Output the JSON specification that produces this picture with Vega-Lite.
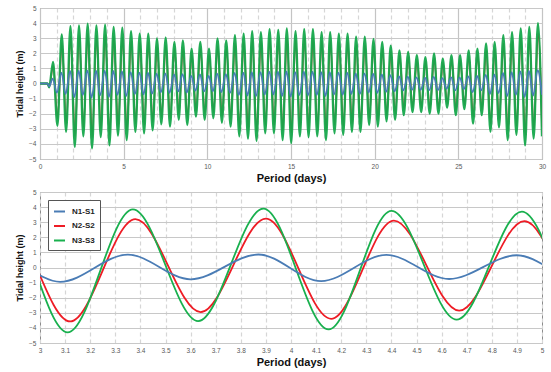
{
"$schema": "https://vega.github.io/schema/vega-lite/v6.json",
"autosize": {"type": "pad"},
"padding": {"left": 15, "top": 4, "right": 9, "bottom": 2},
"background": "white",
"spacing": 4,
"config": {
 "font": "Liberation Sans",
 "view": {"stroke": "#8c8c8c", "strokeWidth": 1},
 "axis": {"domain": false, "ticks": false, "labelFontSize": 6.5, "labelColor": "#595959", "labelPadding": 4, "titleFontSize": 11, "titleFontWeight": "bold", "titleColor": "#111", "gridColor": "#c8c8c8", "gridWidth": 1.2, "labelOverlap": false, "labelFlush": false},
 "legend": {"fillColor": "white", "strokeColor": "#555", "padding": 5, "symbolType": "stroke", "symbolSize": 121, "symbolStrokeWidth": 2, "labelFontSize": 8, "labelFontWeight": "bold", "labelColor": "#222", "rowPadding": 3.5, "labelOffset": 6}
},
"datasets": {"tide": [
{"s":"N3-S3","t":0,"h":0},{"s":"N3-S3","t":0.45,"h":0},{"s":"N3-S3","t":0.55,"h":-0.25},{"s":"N3-S3","t":0.78,"h":1.43},{"s":"N3-S3","t":1.04,"h":-2.8},{"s":"N3-S3","t":1.30,"h":3.25},{"s":"N3-S3","t":1.56,"h":-3.2},{"s":"N3-S3","t":1.82,"h":3.8},{"s":"N3-S3","t":2.08,"h":-4.2},{"s":"N3-S3","t":2.33,"h":3.85},{"s":"N3-S3","t":2.59,"h":-3.5},{"s":"N3-S3","t":2.85,"h":3.97},{"s":"N3-S3","t":3.11,"h":-4.3},{"s":"N3-S3","t":3.37,"h":3.85},{"s":"N3-S3","t":3.63,"h":-3.55},{"s":"N3-S3","t":3.89,"h":3.9},{"s":"N3-S3","t":4.15,"h":-4.1},{"s":"N3-S3","t":4.40,"h":3.75},{"s":"N3-S3","t":4.66,"h":-3.45},{"s":"N3-S3","t":4.92,"h":3.7},{"s":"N3-S3","t":5.18,"h":-3.75},{"s":"N3-S3","t":5.44,"h":3.46},{"s":"N3-S3","t":5.70,"h":-3.2},{"s":"N3-S3","t":5.96,"h":3.3},{"s":"N3-S3","t":6.22,"h":-3.3},{"s":"N3-S3","t":6.47,"h":3.3},{"s":"N3-S3","t":6.73,"h":-3.1},{"s":"N3-S3","t":6.99,"h":2.98},{"s":"N3-S3","t":7.25,"h":-2.7},{"s":"N3-S3","t":7.51,"h":3.05},{"s":"N3-S3","t":7.77,"h":-2.85},{"s":"N3-S3","t":8.03,"h":2.76},{"s":"N3-S3","t":8.29,"h":-2.4},{"s":"N3-S3","t":8.54,"h":2.85},{"s":"N3-S3","t":8.80,"h":-2.75},{"s":"N3-S3","t":9.06,"h":2.3},{"s":"N3-S3","t":9.32,"h":-2.2},{"s":"N3-S3","t":9.58,"h":2.76},{"s":"N3-S3","t":9.84,"h":-2.4},{"s":"N3-S3","t":10.10,"h":2.3},{"s":"N3-S3","t":10.36,"h":-2.3},{"s":"N3-S3","t":10.61,"h":2.98},{"s":"N3-S3","t":10.87,"h":-2.6},{"s":"N3-S3","t":11.13,"h":2.85},{"s":"N3-S3","t":11.39,"h":-2.85},{"s":"N3-S3","t":11.65,"h":3.2},{"s":"N3-S3","t":11.91,"h":-3.5},{"s":"N3-S3","t":12.17,"h":3.3},{"s":"N3-S3","t":12.43,"h":-3.65},{"s":"N3-S3","t":12.68,"h":3.46},{"s":"N3-S3","t":12.94,"h":-3.8},{"s":"N3-S3","t":13.20,"h":3.4},{"s":"N3-S3","t":13.46,"h":-3.3},{"s":"N3-S3","t":13.72,"h":3.6},{"s":"N3-S3","t":13.98,"h":-3.3},{"s":"N3-S3","t":14.24,"h":3.55},{"s":"N3-S3","t":14.50,"h":-3.75},{"s":"N3-S3","t":14.75,"h":3.65},{"s":"N3-S3","t":15.01,"h":-3.95},{"s":"N3-S3","t":15.27,"h":3.46},{"s":"N3-S3","t":15.53,"h":-3.5},{"s":"N3-S3","t":15.79,"h":3.6},{"s":"N3-S3","t":16.05,"h":-3.55},{"s":"N3-S3","t":16.31,"h":3.6},{"s":"N3-S3","t":16.57,"h":-3.5},{"s":"N3-S3","t":16.83,"h":3.4},{"s":"N3-S3","t":17.09,"h":-3.75},{"s":"N3-S3","t":17.34,"h":3.4},{"s":"N3-S3","t":17.60,"h":-3.3},{"s":"N3-S3","t":17.86,"h":3.3},{"s":"N3-S3","t":18.12,"h":-3.4},{"s":"N3-S3","t":18.38,"h":3.3},{"s":"N3-S3","t":18.64,"h":-3.2},{"s":"N3-S3","t":18.89,"h":3.1},{"s":"N3-S3","t":19.15,"h":-3.2},{"s":"N3-S3","t":19.41,"h":3.1},{"s":"N3-S3","t":19.67,"h":-2.75},{"s":"N3-S3","t":19.93,"h":2.95},{"s":"N3-S3","t":20.19,"h":-2.85},{"s":"N3-S3","t":20.45,"h":2.76},{"s":"N3-S3","t":20.71,"h":-2.5},{"s":"N3-S3","t":20.96,"h":2.5},{"s":"N3-S3","t":21.22,"h":-2.4},{"s":"N3-S3","t":21.48,"h":2.2},{"s":"N3-S3","t":21.74,"h":-2.1},{"s":"N3-S3","t":22.00,"h":2.1},{"s":"N3-S3","t":22.26,"h":-1.9},{"s":"N3-S3","t":22.52,"h":1.87},{"s":"N3-S3","t":22.78,"h":-1.9},{"s":"N3-S3","t":23.03,"h":1.75},{"s":"N3-S3","t":23.29,"h":-2.0},{"s":"N3-S3","t":23.55,"h":2.0},{"s":"N3-S3","t":23.81,"h":-2.0},{"s":"N3-S3","t":24.07,"h":1.65},{"s":"N3-S3","t":24.33,"h":-1.6},{"s":"N3-S3","t":24.59,"h":1.87},{"s":"N3-S3","t":24.85,"h":-2.1},{"s":"N3-S3","t":25.10,"h":1.87},{"s":"N3-S3","t":25.36,"h":-1.7},{"s":"N3-S3","t":25.62,"h":2.2},{"s":"N3-S3","t":25.88,"h":-2.65},{"s":"N3-S3","t":26.14,"h":2.3},{"s":"N3-S3","t":26.40,"h":-2.1},{"s":"N3-S3","t":26.66,"h":2.65},{"s":"N3-S3","t":26.92,"h":-3.2},{"s":"N3-S3","t":27.17,"h":2.76},{"s":"N3-S3","t":27.43,"h":-2.9},{"s":"N3-S3","t":27.69,"h":3.2},{"s":"N3-S3","t":27.95,"h":-3.75},{"s":"N3-S3","t":28.21,"h":3.4},{"s":"N3-S3","t":28.47,"h":-3.4},{"s":"N3-S3","t":28.73,"h":3.65},{"s":"N3-S3","t":28.99,"h":-4.1},{"s":"N3-S3","t":29.24,"h":3.75},{"s":"N3-S3","t":29.50,"h":-3.65},{"s":"N3-S3","t":29.76,"h":4.0},{"s":"N3-S3","t":30,"h":-3.5},
{"s":"N2-S2","t":0,"h":0},{"s":"N2-S2","t":0.45,"h":0},{"s":"N2-S2","t":0.55,"h":-0.22},{"s":"N2-S2","t":0.79,"h":1.19},{"s":"N2-S2","t":1.05,"h":-2.32},{"s":"N2-S2","t":1.31,"h":2.70},{"s":"N2-S2","t":1.57,"h":-2.66},{"s":"N2-S2","t":1.83,"h":3.15},{"s":"N2-S2","t":2.09,"h":-3.49},{"s":"N2-S2","t":2.34,"h":3.20},{"s":"N2-S2","t":2.60,"h":-2.91},{"s":"N2-S2","t":2.86,"h":3.30},{"s":"N2-S2","t":3.12,"h":-3.57},{"s":"N2-S2","t":3.38,"h":3.20},{"s":"N2-S2","t":3.64,"h":-2.95},{"s":"N2-S2","t":3.90,"h":3.24},{"s":"N2-S2","t":4.16,"h":-3.40},{"s":"N2-S2","t":4.41,"h":3.11},{"s":"N2-S2","t":4.67,"h":-2.86},{"s":"N2-S2","t":4.93,"h":3.07},{"s":"N2-S2","t":5.19,"h":-3.11},{"s":"N2-S2","t":5.45,"h":2.87},{"s":"N2-S2","t":5.71,"h":-2.66},{"s":"N2-S2","t":5.97,"h":2.74},{"s":"N2-S2","t":6.23,"h":-2.74},{"s":"N2-S2","t":6.48,"h":2.74},{"s":"N2-S2","t":6.74,"h":-2.57},{"s":"N2-S2","t":7.00,"h":2.47},{"s":"N2-S2","t":7.26,"h":-2.24},{"s":"N2-S2","t":7.52,"h":2.53},{"s":"N2-S2","t":7.78,"h":-2.37},{"s":"N2-S2","t":8.04,"h":2.29},{"s":"N2-S2","t":8.30,"h":-1.99},{"s":"N2-S2","t":8.55,"h":2.37},{"s":"N2-S2","t":8.81,"h":-2.28},{"s":"N2-S2","t":9.07,"h":1.91},{"s":"N2-S2","t":9.33,"h":-1.83},{"s":"N2-S2","t":9.59,"h":2.29},{"s":"N2-S2","t":9.85,"h":-1.99},{"s":"N2-S2","t":10.11,"h":1.91},{"s":"N2-S2","t":10.37,"h":-1.91},{"s":"N2-S2","t":10.62,"h":2.47},{"s":"N2-S2","t":10.88,"h":-2.16},{"s":"N2-S2","t":11.14,"h":2.37},{"s":"N2-S2","t":11.40,"h":-2.37},{"s":"N2-S2","t":11.66,"h":2.66},{"s":"N2-S2","t":11.92,"h":-2.91},{"s":"N2-S2","t":12.18,"h":2.74},{"s":"N2-S2","t":12.44,"h":-3.03},{"s":"N2-S2","t":12.69,"h":2.87},{"s":"N2-S2","t":12.95,"h":-3.15},{"s":"N2-S2","t":13.21,"h":2.82},{"s":"N2-S2","t":13.47,"h":-2.74},{"s":"N2-S2","t":13.73,"h":2.99},{"s":"N2-S2","t":13.99,"h":-2.74},{"s":"N2-S2","t":14.25,"h":2.95},{"s":"N2-S2","t":14.51,"h":-3.11},{"s":"N2-S2","t":14.76,"h":3.03},{"s":"N2-S2","t":15.02,"h":-3.28},{"s":"N2-S2","t":15.28,"h":2.87},{"s":"N2-S2","t":15.54,"h":-2.91},{"s":"N2-S2","t":15.80,"h":2.99},{"s":"N2-S2","t":16.06,"h":-2.95},{"s":"N2-S2","t":16.32,"h":2.99},{"s":"N2-S2","t":16.58,"h":-2.91},{"s":"N2-S2","t":16.84,"h":2.82},{"s":"N2-S2","t":17.10,"h":-3.11},{"s":"N2-S2","t":17.35,"h":2.82},{"s":"N2-S2","t":17.61,"h":-2.74},{"s":"N2-S2","t":17.87,"h":2.74},{"s":"N2-S2","t":18.13,"h":-2.82},{"s":"N2-S2","t":18.39,"h":2.74},{"s":"N2-S2","t":18.65,"h":-2.66},{"s":"N2-S2","t":18.90,"h":2.57},{"s":"N2-S2","t":19.16,"h":-2.66},{"s":"N2-S2","t":19.42,"h":2.57},{"s":"N2-S2","t":19.68,"h":-2.28},{"s":"N2-S2","t":19.94,"h":2.45},{"s":"N2-S2","t":20.20,"h":-2.37},{"s":"N2-S2","t":20.46,"h":2.29},{"s":"N2-S2","t":20.72,"h":-2.08},{"s":"N2-S2","t":20.97,"h":2.08},{"s":"N2-S2","t":21.23,"h":-1.99},{"s":"N2-S2","t":21.49,"h":1.83},{"s":"N2-S2","t":21.75,"h":-1.74},{"s":"N2-S2","t":22.01,"h":1.74},{"s":"N2-S2","t":22.27,"h":-1.58},{"s":"N2-S2","t":22.53,"h":1.55},{"s":"N2-S2","t":22.79,"h":-1.58},{"s":"N2-S2","t":23.04,"h":1.45},{"s":"N2-S2","t":23.30,"h":-1.66},{"s":"N2-S2","t":23.56,"h":1.66},{"s":"N2-S2","t":23.82,"h":-1.66},{"s":"N2-S2","t":24.08,"h":1.37},{"s":"N2-S2","t":24.34,"h":-1.33},{"s":"N2-S2","t":24.60,"h":1.55},{"s":"N2-S2","t":24.86,"h":-1.74},{"s":"N2-S2","t":25.11,"h":1.55},{"s":"N2-S2","t":25.37,"h":-1.41},{"s":"N2-S2","t":25.63,"h":1.83},{"s":"N2-S2","t":25.89,"h":-2.20},{"s":"N2-S2","t":26.15,"h":1.91},{"s":"N2-S2","t":26.41,"h":-1.74},{"s":"N2-S2","t":26.67,"h":2.20},{"s":"N2-S2","t":26.93,"h":-2.66},{"s":"N2-S2","t":27.18,"h":2.29},{"s":"N2-S2","t":27.44,"h":-2.41},{"s":"N2-S2","t":27.70,"h":2.66},{"s":"N2-S2","t":27.96,"h":-3.11},{"s":"N2-S2","t":28.22,"h":2.82},{"s":"N2-S2","t":28.48,"h":-2.82},{"s":"N2-S2","t":28.74,"h":3.03},{"s":"N2-S2","t":29.00,"h":-3.40},{"s":"N2-S2","t":29.25,"h":3.11},{"s":"N2-S2","t":29.51,"h":-3.03},{"s":"N2-S2","t":29.77,"h":3.32},{"s":"N2-S2","t":30,"h":-2.9},
{"s":"N1-S1","t":0,"h":0},{"s":"N1-S1","t":0.45,"h":0},{"s":"N1-S1","t":0.55,"h":-0.2},{"s":"N1-S1","t":0.76,"h":0.33},{"s":"N1-S1","t":1.01,"h":-0.62},{"s":"N1-S1","t":1.28,"h":0.72},{"s":"N1-S1","t":1.53,"h":-0.70},{"s":"N1-S1","t":1.80,"h":0.84},{"s":"N1-S1","t":2.05,"h":-0.92},{"s":"N1-S1","t":2.31,"h":0.85},{"s":"N1-S1","t":2.56,"h":-0.77},{"s":"N1-S1","t":2.83,"h":0.87},{"s":"N1-S1","t":3.08,"h":-0.95},{"s":"N1-S1","t":3.35,"h":0.85},{"s":"N1-S1","t":3.60,"h":-0.78},{"s":"N1-S1","t":3.87,"h":0.86},{"s":"N1-S1","t":4.12,"h":-0.90},{"s":"N1-S1","t":4.38,"h":0.83},{"s":"N1-S1","t":4.63,"h":-0.76},{"s":"N1-S1","t":4.90,"h":0.81},{"s":"N1-S1","t":5.15,"h":-0.83},{"s":"N1-S1","t":5.42,"h":0.76},{"s":"N1-S1","t":5.67,"h":-0.70},{"s":"N1-S1","t":5.94,"h":0.73},{"s":"N1-S1","t":6.19,"h":-0.73},{"s":"N1-S1","t":6.45,"h":0.73},{"s":"N1-S1","t":6.70,"h":-0.68},{"s":"N1-S1","t":6.97,"h":0.66},{"s":"N1-S1","t":7.22,"h":-0.59},{"s":"N1-S1","t":7.49,"h":0.67},{"s":"N1-S1","t":7.74,"h":-0.63},{"s":"N1-S1","t":8.01,"h":0.61},{"s":"N1-S1","t":8.26,"h":-0.53},{"s":"N1-S1","t":8.52,"h":0.63},{"s":"N1-S1","t":8.77,"h":-0.61},{"s":"N1-S1","t":9.04,"h":0.51},{"s":"N1-S1","t":9.29,"h":-0.48},{"s":"N1-S1","t":9.56,"h":0.61},{"s":"N1-S1","t":9.81,"h":-0.53},{"s":"N1-S1","t":10.08,"h":0.51},{"s":"N1-S1","t":10.33,"h":-0.51},{"s":"N1-S1","t":10.59,"h":0.66},{"s":"N1-S1","t":10.84,"h":-0.57},{"s":"N1-S1","t":11.11,"h":0.63},{"s":"N1-S1","t":11.36,"h":-0.63},{"s":"N1-S1","t":11.63,"h":0.70},{"s":"N1-S1","t":11.88,"h":-0.77},{"s":"N1-S1","t":12.15,"h":0.73},{"s":"N1-S1","t":12.40,"h":-0.80},{"s":"N1-S1","t":12.66,"h":0.76},{"s":"N1-S1","t":12.91,"h":-0.84},{"s":"N1-S1","t":13.18,"h":0.75},{"s":"N1-S1","t":13.43,"h":-0.73},{"s":"N1-S1","t":13.70,"h":0.79},{"s":"N1-S1","t":13.95,"h":-0.73},{"s":"N1-S1","t":14.22,"h":0.78},{"s":"N1-S1","t":14.47,"h":-0.83},{"s":"N1-S1","t":14.73,"h":0.80},{"s":"N1-S1","t":14.98,"h":-0.87},{"s":"N1-S1","t":15.25,"h":0.76},{"s":"N1-S1","t":15.50,"h":-0.77},{"s":"N1-S1","t":15.77,"h":0.79},{"s":"N1-S1","t":16.02,"h":-0.78},{"s":"N1-S1","t":16.29,"h":0.79},{"s":"N1-S1","t":16.54,"h":-0.77},{"s":"N1-S1","t":16.81,"h":0.75},{"s":"N1-S1","t":17.06,"h":-0.83},{"s":"N1-S1","t":17.32,"h":0.75},{"s":"N1-S1","t":17.57,"h":-0.73},{"s":"N1-S1","t":17.84,"h":0.73},{"s":"N1-S1","t":18.09,"h":-0.75},{"s":"N1-S1","t":18.36,"h":0.73},{"s":"N1-S1","t":18.61,"h":-0.70},{"s":"N1-S1","t":18.87,"h":0.68},{"s":"N1-S1","t":19.12,"h":-0.70},{"s":"N1-S1","t":19.39,"h":0.68},{"s":"N1-S1","t":19.64,"h":-0.61},{"s":"N1-S1","t":19.91,"h":0.65},{"s":"N1-S1","t":20.16,"h":-0.63},{"s":"N1-S1","t":20.43,"h":0.61},{"s":"N1-S1","t":20.68,"h":-0.55},{"s":"N1-S1","t":20.94,"h":0.55},{"s":"N1-S1","t":21.19,"h":-0.53},{"s":"N1-S1","t":21.46,"h":0.48},{"s":"N1-S1","t":21.71,"h":-0.46},{"s":"N1-S1","t":21.98,"h":0.46},{"s":"N1-S1","t":22.23,"h":-0.42},{"s":"N1-S1","t":22.50,"h":0.41},{"s":"N1-S1","t":22.75,"h":-0.42},{"s":"N1-S1","t":23.01,"h":0.39},{"s":"N1-S1","t":23.26,"h":-0.44},{"s":"N1-S1","t":23.53,"h":0.44},{"s":"N1-S1","t":23.78,"h":-0.44},{"s":"N1-S1","t":24.05,"h":0.36},{"s":"N1-S1","t":24.30,"h":-0.35},{"s":"N1-S1","t":24.57,"h":0.41},{"s":"N1-S1","t":24.82,"h":-0.46},{"s":"N1-S1","t":25.08,"h":0.41},{"s":"N1-S1","t":25.33,"h":-0.37},{"s":"N1-S1","t":25.60,"h":0.48},{"s":"N1-S1","t":25.85,"h":-0.58},{"s":"N1-S1","t":26.12,"h":0.51},{"s":"N1-S1","t":26.37,"h":-0.46},{"s":"N1-S1","t":26.64,"h":0.58},{"s":"N1-S1","t":26.89,"h":-0.70},{"s":"N1-S1","t":27.15,"h":0.61},{"s":"N1-S1","t":27.40,"h":-0.64},{"s":"N1-S1","t":27.67,"h":0.70},{"s":"N1-S1","t":27.92,"h":-0.83},{"s":"N1-S1","t":28.19,"h":0.75},{"s":"N1-S1","t":28.44,"h":-0.75},{"s":"N1-S1","t":28.71,"h":0.80},{"s":"N1-S1","t":28.96,"h":-0.90},{"s":"N1-S1","t":29.22,"h":0.83},{"s":"N1-S1","t":29.47,"h":-0.80},{"s":"N1-S1","t":29.74,"h":0.88},{"s":"N1-S1","t":30,"h":-0.75}
]},
"resolve": {"scale": {"color": "independent"}, "legend": {"color": "independent"}},
"vconcat": [
 {
  "width": 502, "height": 151,
  "data": {"name": "tide"},
  "encoding": {
   "x": {"field": "t", "type": "quantitative", "scale": {"domain": [0, 30], "nice": false, "zero": false},
    "axis": {"title": "Period (days)", "values": [0,1,2,3,4,5,6,7,8,9,10,11,12,13,14,15,16,17,18,19,20,21,22,23,24,25,26,27,28,29,30],
     "labelExpr": "datum.value % 5 === 0 ? datum.label : ''",
     "gridDash": {"condition": {"test": "datum.value % 5 === 0", "value": []}, "value": [4, 3]},
     "gridColor": {"condition": {"test": "datum.value % 5 === 0", "value": "#c4c4c4"}, "value": "#d6d6d6"},
     "titlePadding": 3}},
   "y": {"field": "h", "type": "quantitative", "scale": {"domain": [-5, 5], "nice": false},
    "axis": {"title": "Tidal height (m)", "values": [-5,-4,-3,-2,-1,0,1,2,3,4,5], "titleFontSize": 9, "titlePadding": 4}}
  },
  "layer": [
   {"transform": [{"filter": "datum.s === 'N2-S2'"}], "mark": {"type": "line", "interpolate": "monotone", "strokeWidth": 1.6, "color": "#c8302a", "clip": true}},
   {"transform": [{"filter": "datum.s === 'N3-S3'"}], "mark": {"type": "line", "interpolate": "monotone", "strokeWidth": 2.3, "color": "#16a84c", "clip": true, "opacity": 0.95}},
   {"transform": [{"filter": "datum.s === 'N1-S1'"}], "mark": {"type": "line", "interpolate": "monotone", "strokeWidth": 1.7, "color": "#4a7cb5", "clip": true}}
  ]
 },
 {
  "width": 502, "height": 151,
  "data": {"name": "tide"},
  "encoding": {
   "x": {"field": "t", "type": "quantitative", "scale": {"domain": [3, 5], "nice": false, "zero": false},
    "axis": {"title": "Period (days)", "format": "~g", "values": [3,3.1,3.2,3.3,3.4,3.5,3.6,3.7,3.8,3.9,4,4.1,4.2,4.3,4.4,4.5,4.6,4.7,4.8,4.9,5],
     "gridDash": [4, 3], "gridColor": "#d6d6d6", "titlePadding": 3}},
   "y": {"field": "h", "type": "quantitative", "scale": {"domain": [-5, 5], "nice": false},
    "axis": {"title": "Tidal height (m)", "values": [-5,-4,-3,-2,-1,0,1,2,3,4,5], "titleFontSize": 9, "titlePadding": 4}},
   "color": {"field": "s", "type": "nominal", "scale": {"domain": ["N1-S1", "N2-S2", "N3-S3"], "range": ["#4a7cb5", "#ee1c25", "#19b04e"]},
    "legend": {"title": null, "orient": "top-left", "offset": 8}}
  },
  "layer": [
   {"transform": [{"filter": "datum.s === 'N2-S2'"}], "mark": {"type": "line", "interpolate": "monotone", "strokeWidth": 1.8, "clip": true}},
   {"transform": [{"filter": "datum.s === 'N3-S3'"}], "mark": {"type": "line", "interpolate": "monotone", "strokeWidth": 1.8, "clip": true}},
   {"transform": [{"filter": "datum.s === 'N1-S1'"}], "mark": {"type": "line", "interpolate": "monotone", "strokeWidth": 1.8, "clip": true}}
  ]
 }
]
}
